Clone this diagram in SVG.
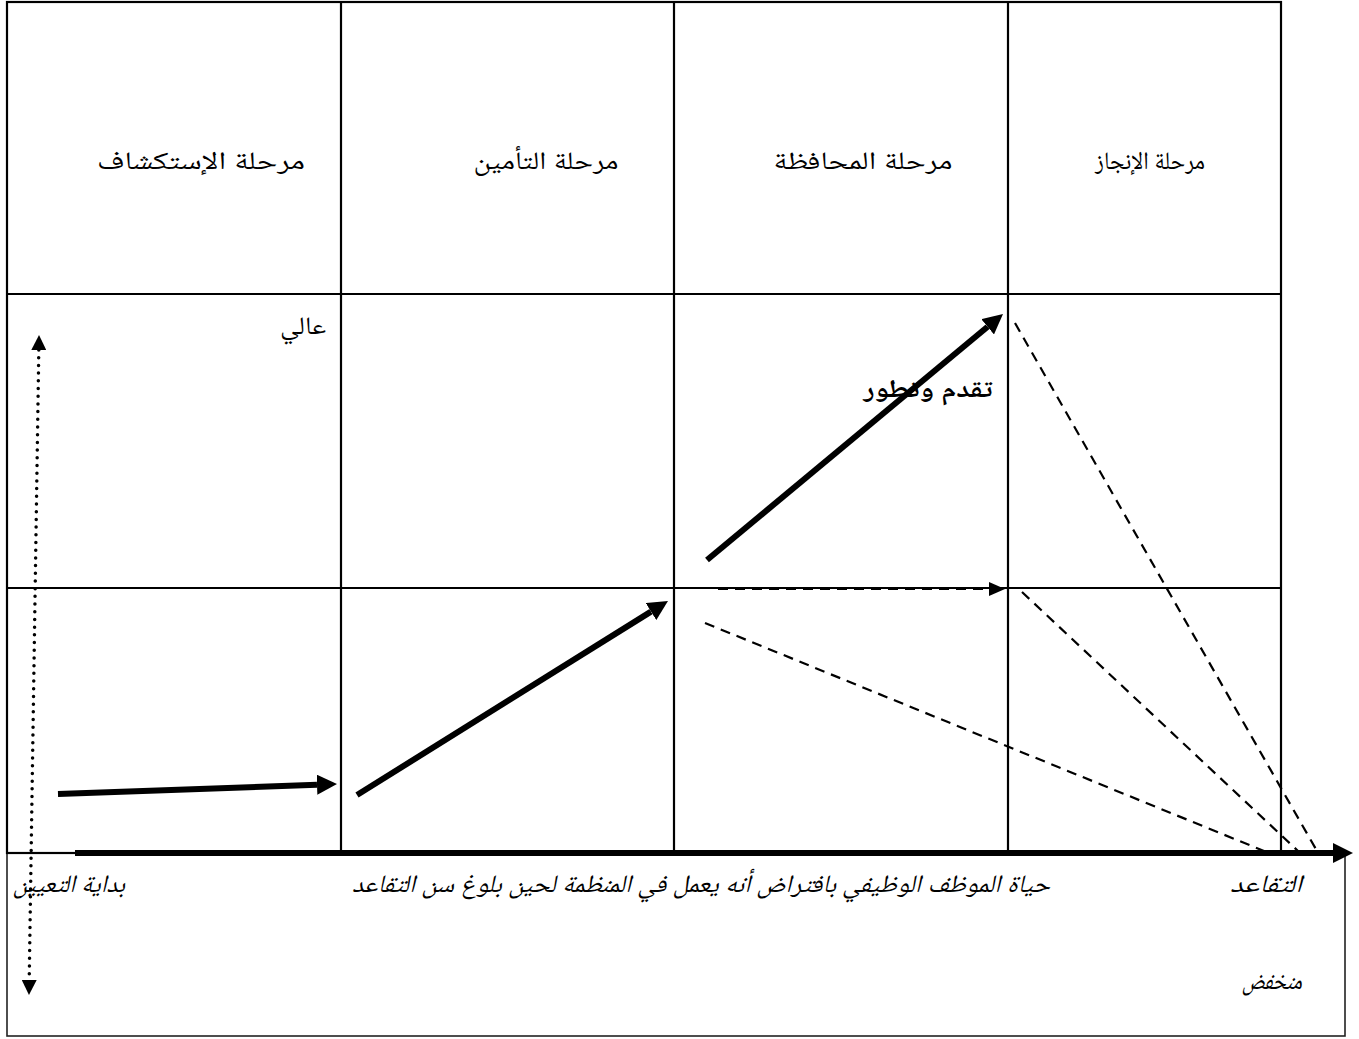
<svg xmlns="http://www.w3.org/2000/svg" width="1359" height="1039" viewBox="0 0 1359 1039">
<style>
.grid{stroke:#000;stroke-width:2.2;fill:none}
.box{stroke:#222;stroke-width:1.6;fill:none}
.thick{stroke:#000;stroke-width:6;fill:none}
.dash{stroke:#000;stroke-width:2.2;stroke-dasharray:10 7;fill:none}
.dot{stroke:#000;stroke-width:3.5;stroke-dasharray:0 7.7;stroke-linecap:round;fill:none}
.t{font-family:"Liberation Serif","Noto Naskh Arabic","DejaVu Sans",serif;font-size:25px;fill:#000;text-anchor:middle}
.i{font-style:italic}
.b{font-weight:bold}
</style>
<defs>
<marker id="big" markerUnits="userSpaceOnUse" markerWidth="20" markerHeight="20" refX="0" refY="10" orient="auto" viewBox="0 0 20 20"><path d="M0,0 L20,10 L0,20 z" fill="#000"/></marker>
<marker id="mid" markerUnits="userSpaceOnUse" markerWidth="16" markerHeight="14" refX="0" refY="7" orient="auto" viewBox="0 0 16 14"><path d="M0,0 L16,7 L0,14 z" fill="#000"/></marker>
<marker id="sm" markerUnits="userSpaceOnUse" markerWidth="15" markerHeight="15" refX="0" refY="7.5" orient="auto-start-reverse" viewBox="0 0 15 15"><path d="M0,0 L15,7.5 L0,15 z" fill="#000"/></marker>
</defs>
<rect width="1359" height="1039" fill="#fff"/>
<g id="table">
<rect class="box" x="7" y="853" width="1338" height="183"/>
<rect class="grid" x="7" y="2" width="1274" height="851"/>
<line class="grid" x1="341" y1="2" x2="341" y2="853"/>
<line class="grid" x1="674" y1="2" x2="674" y2="853"/>
<line class="grid" x1="1008" y1="2" x2="1008" y2="853"/>
<line class="grid" x1="7" y1="294" x2="1281" y2="294"/>
<line class="grid" x1="7" y1="588" x2="1281" y2="588"/>
</g>
<g id="labels">
<text class="t" x="201" y="169" textLength="208" lengthAdjust="spacingAndGlyphs">مرحلة الإستكشاف</text>
<text class="t" x="546" y="169" textLength="145" lengthAdjust="spacingAndGlyphs">مرحلة التأمين</text>
<text class="t" x="863" y="169" textLength="179" lengthAdjust="spacingAndGlyphs">مرحلة المحافظة</text>
<text class="t" x="1150" y="169" textLength="110" lengthAdjust="spacingAndGlyphs">مرحلة الإنجاز</text>
<text class="t" x="303" y="334" textLength="46" lengthAdjust="spacingAndGlyphs">عالي</text>
<text class="t b" x="928" y="397" textLength="129" lengthAdjust="spacingAndGlyphs">تقدم وتطور</text>
<text class="t i" x="69" y="892" textLength="112" lengthAdjust="spacingAndGlyphs">بداية التعيين</text>
<text class="t i" x="701" y="892" textLength="698" lengthAdjust="spacingAndGlyphs">حياة الموظف الوظيفي بافتراض أنه يعمل في المنظمة لحين بلوغ سن التقاعد</text>
<text class="t i" x="1266" y="892" textLength="72" lengthAdjust="spacingAndGlyphs">التقاعد</text>
<text class="t i" x="1272" y="989" textLength="60" lengthAdjust="spacingAndGlyphs">منخفض</text>
</g>
<g id="connectors">
<line class="thick" x1="75" y1="853" x2="1333" y2="853" marker-end="url(#big)"/>
<line class="thick" x1="58" y1="794" x2="317" y2="784.7" marker-end="url(#big)"/>
<line class="thick" x1="357" y1="795" x2="651" y2="611.6" marker-end="url(#big)"/>
<line class="thick" x1="707" y1="560" x2="987.6" y2="326.8" marker-end="url(#big)"/>
<line class="dash" x1="718" y1="589" x2="989" y2="589" marker-end="url(#mid)"/>
<line class="dash" x1="705" y1="623" x2="1264" y2="851"/>
<line class="dash" x1="1015" y1="323" x2="1317" y2="851"/>
<line class="dash" x1="1022" y1="592" x2="1298" y2="851"/>
<line class="dot" x1="38.8" y1="350" x2="29.2" y2="980" marker-start="url(#sm)" marker-end="url(#sm)"/>
</g>
</svg>
